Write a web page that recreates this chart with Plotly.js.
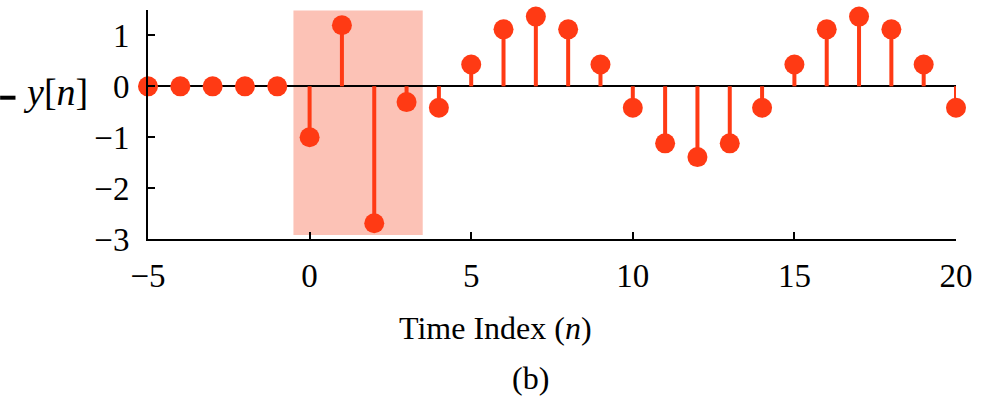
<!DOCTYPE html>
<html>
<head>
<meta charset="utf-8">
<script src="https://cdn.plot.ly/plotly-3.0.1.min.js"></script>
<style>html,body{margin:0;padding:0;background:#fff}#plot{width:994px;height:400px}</style>
</head>
<body>
<div id="plot"></div>
<script>
// Data
const n = [-5,-4,-3,-2,-1,0,1,2,3,4,5,6,7,8,9,10,11,12,13,14,15,16,17,18,19,20];
const y = [0,0,0,0,0,-1.0,1.2,-2.69,-0.31,-0.42,0.43,1.12,1.37,1.12,0.43,-0.42,-1.12,-1.39,-1.12,-0.42,0.43,1.12,1.37,1.12,0.43,-0.42];
const highlightRange = [-0.5, 3.5];
const highlightY = [-2.92, 1.49];
const xTicks = [-5,0,5,10,15,20];
const yTicks = [-3,-2,-1,0,1];
const yTickText = ['\u22123','\u22122','\u22121','0','1'];
const xTickText = ['\u22125','0','5','10','15','20'];

const red = '#ff3a14';
const font = 'Liberation Serif';

// stems built from the data
const sx = [], sy = [];
n.forEach((v,i)=>{ sx.push(v, v, null); sy.push(0, y[i], null); });

const traces = [
  {x: sx, y: sy, mode: 'lines', line: {color: red, width: 4}, hoverinfo: 'skip', cliponaxis: false, showlegend: false},
  {x: n, y: y, mode: 'markers', marker: {color: red, size: 20}, cliponaxis: false, showlegend: false}
];

const layout = {
  width: 994, height: 400,
  margin: {l: 148, r: 38, t: 10, b: 161},
  paper_bgcolor: '#fff', plot_bgcolor: '#fff',
  font: {family: font, size: 33, color: '#000'},
  showlegend: false,
  xaxis: {
    range: [-5, 20], tickvals: xTicks, ticktext: xTickText,
    ticks: 'inside', ticklen: 7, tickwidth: 2, tickcolor: '#000',
    showline: true, linecolor: '#000', linewidth: 2,
    showgrid: false, zeroline: false,
    tickfont: {family: font, size: 33}, ticklabelstandoff: 6
  },
  yaxis: {
    range: [-3, 1.5], tickvals: yTicks, ticktext: yTickText,
    ticks: 'inside', ticklen: 7, tickwidth: 2, tickcolor: '#000',
    showline: true, linecolor: '#000', linewidth: 2,
    showgrid: false, zeroline: true, zerolinecolor: '#000', zerolinewidth: 2,
    tickfont: {family: font, size: 33}, ticklabelstandoff: 10
  },
  shapes: [
    {type: 'rect', xref: 'x', yref: 'y', x0: highlightRange[0], x1: highlightRange[1], y0: highlightY[0], y1: highlightY[1],
     fillcolor: '#fcc2b6', line: {width: 0}, layer: 'below'},
    {type: 'line', xref: 'paper', yref: 'paper', x0: -0.183, x1: -0.164, y0: 0.617, y1: 0.617, line: {color: '#000', width: 4}}
  ],
  annotations: [
    {text: '<i>y</i>[<i>n</i>]', xref: 'paper', yref: 'paper', x: -0.115, y: 0.64, xanchor: 'center', yanchor: 'middle',
     showarrow: false, font: {family: font, size: 38}},
    {text: 'Time Index (<i>n</i>)', xref: 'paper', yref: 'paper', x: 0.5, y: 0, yshift: -89, xanchor: 'center', yanchor: 'middle',
     showarrow: false, font: {family: font, size: 32}, xshift: -57},
    {text: '(b)', xref: 'paper', yref: 'paper', x: 0.5, y: 0, yshift: -139, xanchor: 'center', yanchor: 'middle',
     showarrow: false, font: {family: font, size: 32}, xshift: -22}
  ]
};

Plotly.newPlot('plot', traces, layout, {displayModeBar: false, staticPlot: true});
</script>
</body>
</html>
